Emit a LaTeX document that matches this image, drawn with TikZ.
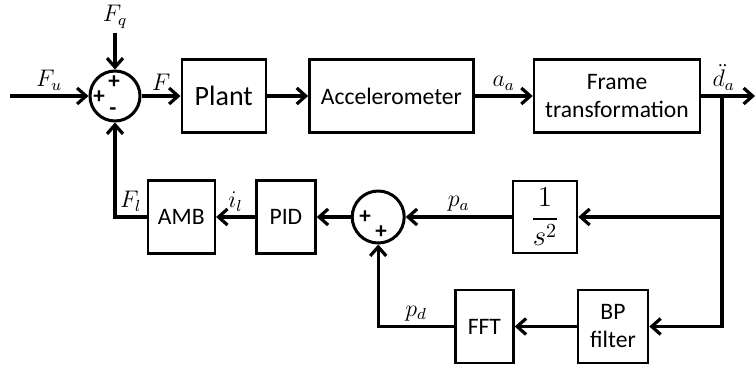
\documentclass[tikz,border=0pt]{standalone}
\usepackage{amsmath}
\usepackage{fontspec}
\setmainfont{Carlito}
\usetikzlibrary{arrows.meta,positioning}

\begin{document}
\begin{tikzpicture}[
    x=0.5pt, y=-0.5pt,
    font=\fontsize{11.8}{14}\selectfont,
    >={Straight Barb[length=4.5pt,width=8pt]},
    block/.style={rectangle, draw=black, line width=1.3pt, minimum height=36.5pt,
      inner sep=1pt, align=center},
    sumnode/.style={circle, draw=black, line width=1.5pt, minimum size=25pt, inner sep=0pt},
    flow/.style={->, line width=1.6pt},
    sig/.style={font=\fontsize{12}{14}\selectfont, inner sep=2pt},
    sgn/.style={font=\bfseries\fontsize{11.5}{12}\selectfont, inner sep=0pt}
  ]
  \useasboundingbox (0,0) rectangle (756,365);
  % forward path
  \node[sumnode] (sum1) at (115,96) {};
  \node[block, minimum width=42pt, right=19.5pt of sum1,
    font=\fontsize{14}{16}\selectfont] (plant) {Plant};
  \node[block, minimum width=82pt, right=20.5pt of plant] (acc) {Accelerometer};
  \node[block, minimum width=83pt, right=29pt of acc] (frame) {Frame\\transformation};
  \coordinate (in) at (10,96);
  \coordinate (dist) at (115,33);
  \coordinate (split) at (722,96);
  \coordinate (out) at (755,96);
  % feedback path
  \node[block, minimum width=32pt, minimum height=36pt] (integ) at (545,217)
    {\fontsize{14}{16}\selectfont$\dfrac{1}{s^2}$};
  \node[sumnode, minimum size=26pt, left=53pt of integ] (sum2) {};
  \node[block, minimum width=29.5pt, left=17pt of sum2] (pid) {PID};
  \node[block, minimum width=33.5pt, left=19.5pt of pid] (amb) {AMB};
  \node[block, minimum width=35pt] (bp) at (613,326.5) {BP\\filter};
  \node[block, minimum width=29pt, left=31pt of bp] (fft) {FFT};
  % signs
  \node[sgn] (s1a) at (114,82) {+};
  \node[sgn] (s1b) at (99,97) {+};
  \node[sgn] (s1c) at (113,112) {-};
  \node[sgn] (s2a) at (365,217) {+};
  \node[sgn] (s2b) at (381,232) {+};
  % connections
  \draw[flow] (in) -- (sum1.west) node[sig, midway, above] (fu) {$F_u$};
  \draw[flow] (dist) -- (sum1.north);
  \node[sig, above] (fq) at (dist) {$F_q$};
  \draw[flow] (sum1) -- (plant) node[sig, midway, above] (f) {$F$};
  \draw[flow] (plant) -- (acc);
  \draw[flow] (acc) -- (frame) node[sig, midway, above] (aa) {$a_a$};
  \draw[flow] (frame) -- (out) node[sig, pos=0.42, above] (dd) {$\ddot{d}_a$};
  \draw[flow] (split) |- (bp.east);
  \draw[flow] (split |- integ) -- (integ.east);
  \draw[flow] (integ) -- (sum2) node[sig, midway, above] (pa) {$p_a$};
  \draw[flow] (sum2) -- (pid);
  \draw[flow] (pid) -- (amb) node[sig, midway, above] (il) {$i_l$};
  \draw[flow] (amb.west) -| (sum1.south) node[sig, pos=0.25, above] (fl) {$F_l$};
  \draw[flow] (bp) -- (fft);
  \draw[flow] (fft.west) -| (sum2.south) node[sig, pos=0.25, above] (pd) {$p_d$};
\end{tikzpicture}
\end{document}
